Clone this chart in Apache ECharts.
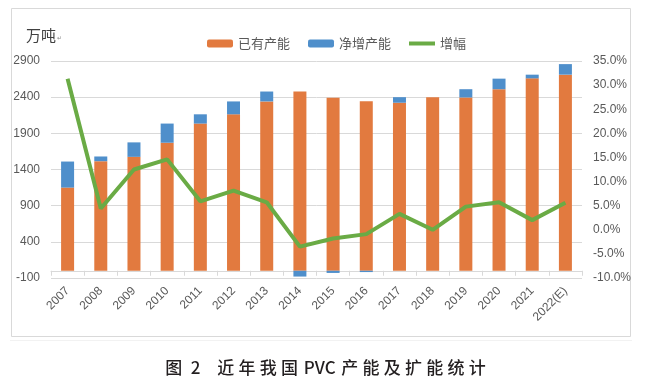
<!DOCTYPE html>
<html><head><meta charset="utf-8">
<script src="https://cdn.jsdelivr.net/npm/echarts@6/dist/echarts.min.js"></script>
<style>html,body{margin:0;padding:0;background:#fff}#c{width:651px;height:392px}</style>
</head><body><div id="c"></div>
<script>
const categories = ['2007','2008','2009','2010','2011','2012','2013','2014','2015','2016','2017','2018','2019','2020','2021','2022(E)'];
const existing = [1150,1515,1575,1770,2035,2163,2341,2478,2392,2345,2323,2400,2396,2510,2660,2711];
const netAdd   = [360,65,200,265,128,178,137,-80,-30,-18,77,0,114,146,51,146];
const growthPct = [31.3,4.4,12.5,14.6,5.9,8.1,5.7,-3.5,-1.8,-0.9,3.3,0.0,4.8,5.7,2.0,5.6];
const leftTicks = {min:-100, max:2900, interval:500};
const rightTicks = {min:-10, max:35, interval:5};

const chart = echarts.init(document.getElementById('c'));
const labelFont = 'Liberation Sans, Arial, sans-serif';
const cjk = '"Noto Sans CJK SC", sans-serif';
const sp = '\u2005';
const titleText = '图' + '\u2002' + '2' + '\u2003' + ['近','年','我','国'].join(sp) + '\u2004PVC\u2004' + ['产','能','及','扩','能','统','计'].join(sp);
chart.setOption({
  animation:false,
  backgroundColor:'#ffffff',
  graphic:[
    {type:'rect', shape:{x:11.5,y:8.5,width:619,height:328}, style:{fill:'#ffffff',stroke:'#d9d9d9',lineWidth:1}, z:-10},
    {type:'line', shape:{x1:10,y1:340.5,x2:632,y2:340.5}, style:{stroke:'#f2f2f2',lineWidth:1}, z:-10},
    {type:'text', left:26, top:28, style:{text:'万吨', font:'15px '+cjk, fill:'#404040'}},
    {type:'text', left:57, top:35, style:{text:'↵', font:'6px '+cjk, fill:'#8c8c8c'}},
    {type:'text', left:'center', top:359, style:{text:titleText, font:'500 17px '+cjk, fill:'#231f20'}}
  ],
  legend:{
    left:202, top:32, itemWidth:26, itemHeight:8, itemGap:18,
    textStyle:{color:'#595959', fontSize:13, fontFamily:cjk},
    data:['已有产能','净增产能',{name:'增幅', icon:'path://M0,0L26,0L26,4L0,4Z'}]
  },
  grid:{left:51, right:69, top:61, bottom:114},
  xAxis:{
    type:'category', data:categories,
    axisLine:{onZero:true, lineStyle:{color:'#d9d9d9'}},
    axisTick:{show:true, length:5, lineStyle:{color:'#d9d9d9'}},
    axisLabel:{rotate:45, interval:0, margin:11, color:'#595959', fontSize:12, fontFamily:labelFont}
  },
  yAxis:[
    {type:'value', min:leftTicks.min, max:leftTicks.max, interval:leftTicks.interval,
     axisLine:{show:false}, axisTick:{show:false},
     axisLabel:{color:'#595959', fontSize:12, margin:11, fontFamily:labelFont, formatter:v=>String(v)},
     splitLine:{lineStyle:{color:'#d9d9d9'}}},
    {type:'value', min:rightTicks.min, max:rightTicks.max, interval:rightTicks.interval,
     axisLine:{show:false}, axisTick:{show:false}, splitLine:{show:false},
     axisLabel:{color:'#595959', fontSize:12, margin:11, fontFamily:labelFont,
       formatter:v=>v.toFixed(1)+'%'}}
  ],
  series:[
    {name:'已有产能', type:'bar', stack:'cap', data:existing, barWidth:13, itemStyle:{color:'#E27A3F'}},
    {name:'净增产能', type:'bar', stack:'cap', data:netAdd, barWidth:13, itemStyle:{color:'#4F8FCB'}},
    {name:'增幅', type:'line', yAxisIndex:1, data:growthPct, symbol:'none', lineStyle:{color:'#6AAB45', width:4}, itemStyle:{color:'#6AAB45'}, z:5}
  ]
});
</script></body></html>
